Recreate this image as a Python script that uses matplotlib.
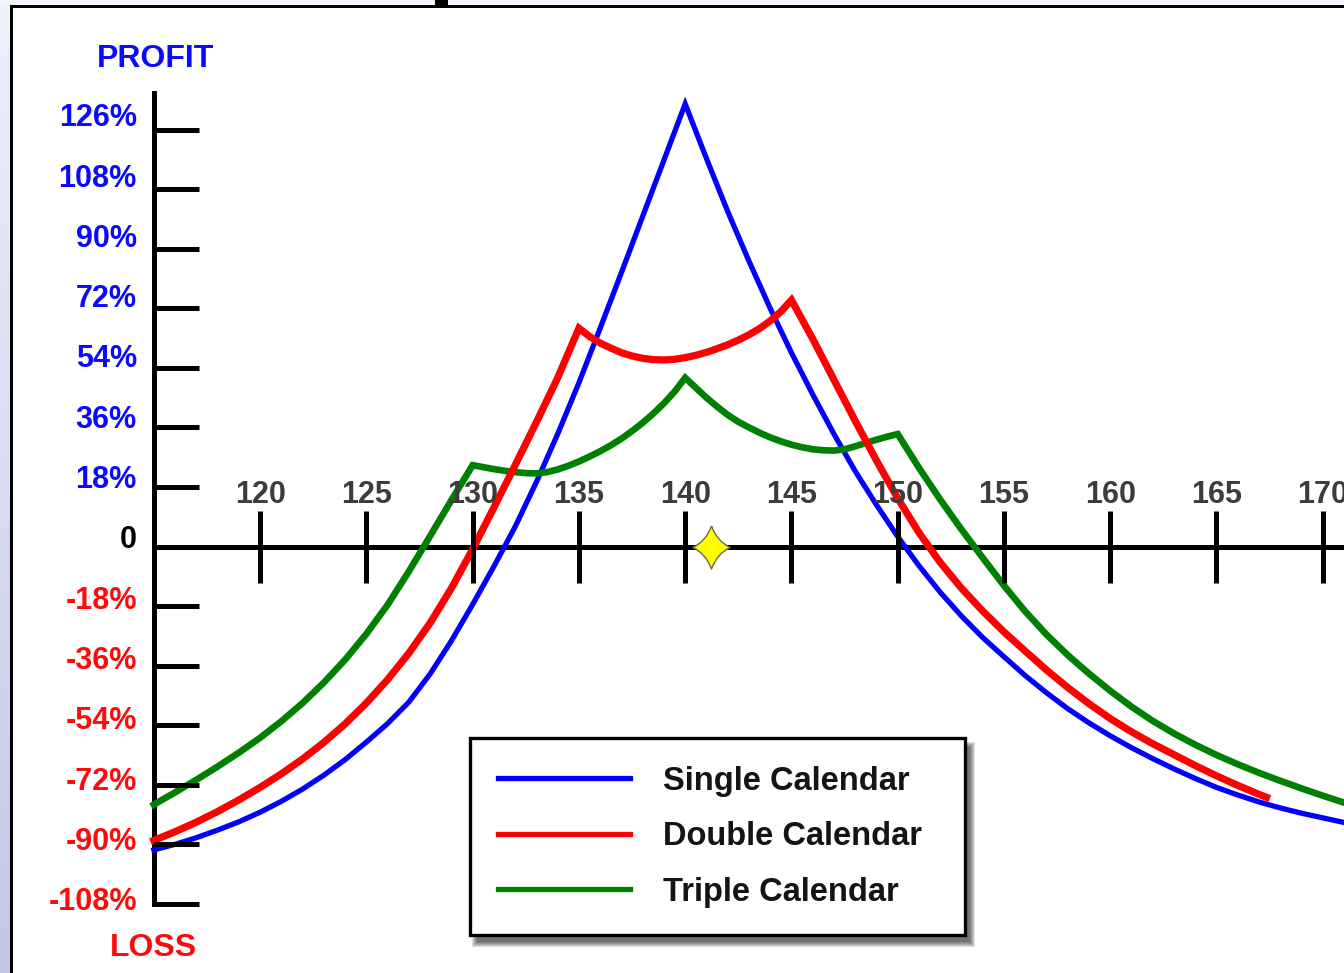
import numpy as np
import matplotlib
matplotlib.use("Agg")
import matplotlib.pyplot as plt
from matplotlib.path import Path
from matplotlib.patches import Rectangle
from matplotlib.lines import Line2D
from matplotlib.colors import LinearSegmentedColormap
from matplotlib.transforms import offset_copy

plt.rcParams['font.family'] = ['Liberation Sans', 'DejaVu Sans']
plt.rcParams['font.weight'] = 'bold'

# strike axis and profit/loss axis
strike_ticks = [120, 125, 130, 135, 140, 145, 150, 155, 160, 165, 170]
pct_ticks = [126, 108, 90, 72, 54, 36, 18, 0, -18, -36, -54, -72, -90, -108]
pct_labels = ['126%', '108%', '90%', '72%', '54%', '36%', '18%', '0',
              '-18%', '-36%', '-54%', '-72%', '-90%', '-108%']

# single calendar, 140 strike
single_x = [115, 116, 117, 118, 119, 120, 121, 122, 123, 124, 125, 126, 127, 128,
            129, 130, 131, 132, 133, 134, 135, 136, 137, 138, 139, 140,
            141, 142, 143, 144, 145, 146, 147, 148, 149, 150, 151, 152, 153, 154,
            155, 156, 157, 158, 159, 160, 161, 162, 163, 164, 165, 166, 167, 168,
            169, 170, 171]
single_y = [-91.7, -90.0, -88.0, -85.7, -83.2, -80.3, -77.0, -73.3, -69.1, -64.4,
            -59.1, -53.5, -47.0, -38.5, -28.5, -17.5, -6.0, 6.0, 19.5, 34.0, 49.5,
            66.0, 82.8, 99.8, 116.8, 133.8,
            117.3, 101.3, 86.3, 72.0, 58.6, 46.0, 34.0, 22.8, 12.6, 3.0, -5.8,
            -13.8, -21.0, -27.5, -33.3, -39.0, -44.2, -49.0, -53.3, -57.2, -60.8,
            -64.1, -67.2, -70.1, -72.8, -75.1, -77.2, -79.0, -80.6, -82.0, -83.4]

# double calendar, 135 / 145 strikes
double_x = [115, 116, 117, 118, 119, 120, 121, 122, 123, 124, 125, 126, 127, 128,
            129, 130, 131, 132, 133, 134, 135,
            135.5, 136, 136.5, 137, 137.5, 138, 138.5, 139, 139.5, 140, 140.5,
            141, 141.5, 142, 142.5, 143, 143.5, 144, 144.5, 145,
            146, 147, 148, 149, 150, 151, 152, 153, 154, 155, 156, 157, 158, 159,
            160, 161, 162, 163, 164, 165, 166, 167, 167.35]
double_y = [-88.8, -86.2, -83.3, -80.1, -76.6, -72.8, -68.7, -64.2, -59.2, -53.6,
            -47.3, -40.2, -32.2, -23.1, -12.6, -0.8, 11.8, 24.6, 37.6, 51.0, 66.0,
            63.5, 61.5, 60.0, 58.6, 57.6, 56.9, 56.5, 56.4, 56.6, 57.1, 57.8,
            58.7, 59.8, 61.0, 62.4, 64.0, 65.9, 68.2, 71.0, 74.5,
            62.8, 50.4, 38.0, 26.0, 14.6, 4.2, -4.8, -12.6, -19.5, -25.8, -31.6,
            -37.3, -42.6, -47.5, -52.0, -56.0, -59.6, -62.9, -66.2, -69.3, -72.2,
            -74.9, -75.8]

# triple calendar, 130 / 140 / 150 strikes
triple_x = [115, 116, 117, 118, 119, 120, 121, 122, 123, 124, 125, 126, 127, 128,
            129, 130,
            130.5, 131, 131.5, 132, 132.5, 133, 133.5, 134, 134.5, 135, 135.5,
            136, 136.5, 137, 137.5, 138, 138.5, 139, 139.5, 140,
            140.5, 141, 141.5, 142, 142.5, 143, 143.5, 144, 144.5, 145, 145.5,
            146, 146.5, 147, 147.5, 148, 148.5, 149, 149.5, 150,
            151, 152, 153, 154, 155, 156, 157, 158, 159, 160, 161, 162, 163, 164,
            165, 166, 167, 168, 169, 170, 171]
triple_y = [-78.0, -74.3, -70.5, -66.5, -62.3, -57.8, -52.8, -47.3, -41.1, -34.2,
            -26.4, -17.6, -7.5, 3.2, 14.0, 24.6,
            24.0, 23.4, 22.9, 22.5, 22.2, 22.1, 22.5, 23.3, 24.4, 25.7, 27.2,
            28.8, 30.6, 32.6, 34.9, 37.4, 40.2, 43.3, 46.8, 51.0,
            48.0, 45.0, 42.3, 39.8, 37.7, 36.0, 34.4, 33.0, 31.8, 30.8, 30.0,
            29.4, 29.1, 29.0, 29.4, 30.3, 31.3, 32.3, 33.2, 34.0,
            23.8, 14.2, 5.2, -3.4, -11.8, -19.6, -26.6, -32.8, -38.4, -43.6,
            -48.4, -52.7, -56.5, -59.9, -63.0, -65.8, -68.4, -70.8, -73.1,
            -75.3, -77.4]

series_names = ['Single Calendar', 'Double Calendar', 'Triple Calendar']
current_price = 141.2

W, H = 1344, 973
fig = plt.figure(figsize=(W / 100, H / 100), dpi=100)
fig.patch.set_facecolor('white')

ax = fig.add_axes([0, 0, 1, 1])
ax.patch.set_visible(False)
ax.set_xlim(107.76, 171.0)
ax.set_ylim(-128.9, 165.2)
ax.set_axisbelow(False)

# axes crossing at zero profit, y axis at the left end of the strike range
for side in ['right', 'bottom']:
    ax.spines[side].set_visible(False)
ax.spines['left'].set_position(('data', 115))
ax.spines['left'].set_bounds(-108, 137)
ax.spines['top'].set_position(('data', 0))
ax.spines['top'].set_bounds(115, 171)
for side in ['left', 'top']:
    ax.spines[side].set_linewidth(3.6)
    ax.spines[side].set_zorder(1.5)

ax.xaxis.tick_top()
ax.set_xticks(strike_ticks)
ax.set_xticklabels([str(s) for s in strike_ticks])
ax.tick_params(axis='x', direction='inout', length=52, width=3.6, pad=0.5,
               labelsize=22, labelcolor='#3c3c3c', color='black')
ax.set_yticks(pct_ticks)
ax.tick_params(axis='y', direction='in', length=32.5, width=3.6,
               labelleft=False, color='black')

# percentage labels sit a little above their ticks, more so near the top
for v, lab in zip(pct_ticks, pct_labels):
    dy = 1.5 + (v + 108) / 234 * 10
    col = '#0a0aff' if v > 0 else ('#ff0a0a' if v < 0 else 'black')
    ax.text(115, v, lab, color=col, fontsize=22, ha='right', va='center',
            transform=offset_copy(ax.transData, fig=fig, x=-17, y=dy, units='dots'))

ax.text(115.1, 147.4, 'PROFIT', color='#0a0aff', fontsize=23,
        ha='center', va='center')
ax.text(115.0, -121.3, 'LOSS', color='#ff0a0a', fontsize=23,
        ha='center', va='center')

l1, = ax.plot(single_x, single_y, color='#0000ff', lw=3.8,
              solid_joinstyle='miter', zorder=2)
l2, = ax.plot(double_x, double_y, color='#ff0000', lw=5.2,
              solid_joinstyle='miter', zorder=2.2)
l3, = ax.plot(triple_x, triple_y, color='#008000', lw=4.8,
              solid_joinstyle='miter', zorder=2.1)

# four-pointed star marking the current price
star_verts = [(0, 1.15), (0.3, 0.32), (1, 0), (0.3, -0.32), (0, -1.15),
              (-0.3, -0.32), (-1, 0), (-0.3, 0.32), (0, 1.15)]
star_codes = [Path.MOVETO] + [Path.CURVE3] * 8
star = Path(star_verts, star_codes)
ax.plot([current_price], [0], marker=star, markersize=31,
        markerfacecolor='#ffff00', markeredgecolor='#6b6b3a',
        markeredgewidth=1.0, linestyle='none', zorder=4)

handles = [Line2D([], [], color='#0000ff', lw=3.8),
           Line2D([], [], color='#ff0000', lw=3.8),
           Line2D([], [], color='#008000', lw=3.8)]
leg = ax.legend(handles, series_names, loc='upper left',
                bbox_to_anchor=(470 / W, 1 - 940 / H, 495 / W, 202 / H),
                bbox_transform=fig.transFigure, mode='expand',
                borderaxespad=0, borderpad=0.85, handlelength=4.05,
                handletextpad=1.0, labelspacing=0.75,
                prop={'family': 'Liberation Sans', 'weight': 'bold', 'size': 23.5},
                fancybox=False, framealpha=1, edgecolor='black', labelcolor='#141414')
leg.get_frame().set_linewidth(2.4)
leg.set_zorder(6)

# soft drop shadow behind the legend box
fig.canvas.draw()
bb = leg.get_window_extent()
for k in range(6):
    ax.add_patch(Rectangle((bb.x0 + 7 - k, bb.y0 - 7 - k), bb.width + 2 * k - 2,
                           bb.height + 2 * k - 2, transform=None,
                           facecolor='black', edgecolor='none',
                           alpha=0.12, zorder=5))

# page border: light strip on top, lavender strip on the left, black frame
fig.add_artist(Rectangle((0, 1 - 5 / H), 1, 5 / H, transform=fig.transFigure,
                         facecolor='#f3f5fc', edgecolor='none'))
side = fig.add_axes([0, 0, 10 / W, 1 - 5 / H])
side.axis('off')
cmap = LinearSegmentedColormap.from_list('side', ['#c3c7e8', '#eef0fa'])
side.imshow(np.linspace(0, 1, 256)[:, None], aspect='auto', cmap=cmap,
            origin='lower', extent=[0, 1, 0, 1])
fig.add_artist(Rectangle((10 / W, 1 - 7.5 / H), 1, 2.5 / H,
                         transform=fig.transFigure, facecolor='black',
                         edgecolor='none'))
fig.add_artist(Rectangle((10 / W, 0), 3 / W, 1 - 5 / H,
                         transform=fig.transFigure, facecolor='black',
                         edgecolor='none'))
fig.add_artist(Rectangle((435 / W, 1 - 6 / H), 13 / W, 6 / H,
                         transform=fig.transFigure, facecolor='black',
                         edgecolor='none'))

fig.savefig('out.png', dpi=100)
